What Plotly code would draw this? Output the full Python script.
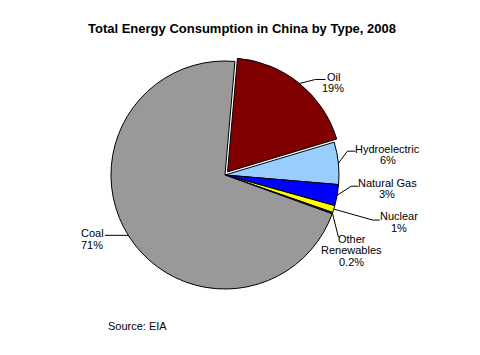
import math
import plotly.graph_objects as go

# ---- data ----
categories = ["Oil", "Hydroelectric", "Natural Gas", "Nuclear", "Other Renewables", "Coal"]
values = [19, 6, 3, 1, 0.2, 71]
display_lines = [["Oil"], ["Hydroelectric"], ["Natural Gas"], ["Nuclear"], ["Other", "Renewables"], ["Coal"]]
title_text = "Total Energy Consumption in China by Type, 2008"
source_text = "Source: EIA"

# ---- style ----
colors = ["#800000", "#99CCFF", "#0000FF", "#FFFF00", "#555555", "#999999"]
pulls = [0.035, 0, 0, 0, 0, 0]
W, H = 480, 355
cx, cy, half = 225, 175, 118
rotation = 5
FONT = "Liberation Sans, Arial, sans-serif"
LH = 11.5
# label placement offsets (pixels): line end rel. to slice edge, horizontal tail, text centre rel. to line end
label_style = [
    dict(end=(26, -4), hl=10, text=(8, 3)),
    dict(end=(17, -12), hl=8, text=(32.5, 3.5)),
    dict(end=(21, -9), hl=7, text=(29, 2.5)),
    dict(end=(46, 11), hl=7, text=(19.5, 2)),
    dict(end=(6, 24), hl=0, text=(13.5, 13)),
    dict(end=(-24, -1), hl=-23, text=(-12.5, 3.5)),
]

def px(x):
    return x / W

def py(y):
    return 1 - y / H

fig = go.Figure(go.Pie(
    labels=categories, values=values, sort=False, direction="clockwise",
    rotation=rotation, pull=pulls, textinfo="none", hoverinfo="label+percent",
    marker=dict(colors=colors, line=dict(color="black", width=1)),
    domain=dict(x=[px(cx - half), px(cx + half)], y=[py(cy + half), py(cy - half)]),
    showlegend=False,
))

r = half / (1 + max(pulls))
total = sum(values)
shapes, annots = [], []
ang = rotation
for i, v in enumerate(values):
    span = v / total * 360
    mid = math.radians(ang + span / 2)
    ang += span
    rr = r + pulls[i] * r
    ex = cx + rr * math.sin(mid)
    ey = cy - rr * math.cos(mid)
    st = label_style[i]
    endx, endy = ex + st["end"][0], ey + st["end"][1]
    elx = endx - st["hl"]
    shapes.append(dict(type="path", xref="paper", yref="paper",
                       path=f"M {px(ex)} {py(ey)} L {px(elx)} {py(endy)} L {px(endx)} {py(endy)}",
                       line=dict(color="black", width=1)))
    lines = display_lines[i] + [f"{v:g}%"]
    tcx, tcy = endx + st["text"][0], endy + st["text"][1]
    n = len(lines)
    for k, t in enumerate(lines):
        yy = tcy + (k - (n - 1) / 2) * LH
        annots.append(dict(text=t, x=px(tcx), y=py(yy), xref="paper", yref="paper",
                           showarrow=False, xanchor="center", yanchor="middle",
                           font=dict(family=FONT, size=11, color="black")))

annots.append(dict(text=f"<b>{title_text}</b>", x=px(241.5), y=py(28), xref="paper", yref="paper",
                   showarrow=False, xanchor="center", yanchor="middle",
                   font=dict(family=FONT, size=13, color="black")))
annots.append(dict(text=source_text, x=px(106), y=py(326), xref="paper", yref="paper",
                   showarrow=False, xanchor="left", yanchor="middle",
                   font=dict(family=FONT, size=11, color="black")))

fig.update_layout(width=W, height=H, margin=dict(l=0, r=0, t=0, b=0),
                  paper_bgcolor="white", plot_bgcolor="white",
                  shapes=shapes, annotations=annots)
fig.write_html("out.html", config={"displayModeBar": False},
               post_script="document.body.style.margin='0';document.body.style.overflow='hidden';")
